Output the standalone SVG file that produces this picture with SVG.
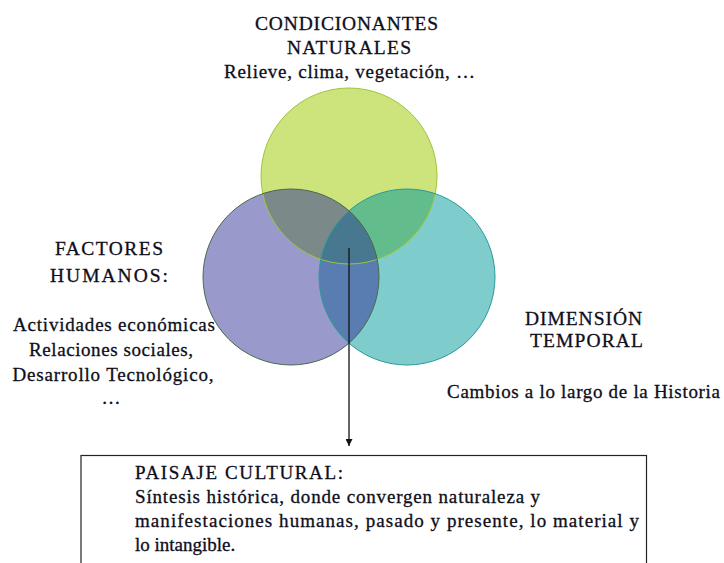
<svg xmlns="http://www.w3.org/2000/svg" width="724" height="563" viewBox="0 0 724 563">
<style>
text{font-family:"Liberation Serif","Times New Roman",serif;fill:#0e0e1a;stroke:#0e0e1a;stroke-width:0.3px}
.h{font-size:19.5px}
.t{font-size:19px}
.c{text-anchor:middle}
</style>
<defs>
<clipPath id="cT"><circle cx="349" cy="176" r="88"/></clipPath>
<clipPath id="cL"><circle cx="291" cy="277" r="88"/></clipPath>
<marker id="arr" viewBox="0 0 10 10" refX="10" refY="5" markerWidth="7" markerHeight="7" markerUnits="userSpaceOnUse" orient="auto"><path d="M0,0 L10,5 L0,10 z" fill="#111"/></marker>
</defs>
<rect width="724" height="563" fill="#fff"/>
<g id="circle-top">
<circle cx="349" cy="176" r="88" fill="#cde37c"/>
</g>
<g id="circle-left">
<circle cx="291" cy="277" r="88" fill="#9999cb"/>
</g>
<g id="circle-right">
<circle cx="407" cy="277" r="88" fill="#7ecccc"/>
</g>
<g id="overlaps">
<circle cx="291" cy="277" r="88" fill="#7b8a88" clip-path="url(#cT)"/>
<circle cx="407" cy="277" r="88" fill="#63bc8c" clip-path="url(#cT)"/>
<circle cx="407" cy="277" r="88" fill="#5a7db1" clip-path="url(#cL)"/>
<g clip-path="url(#cT)"><circle cx="407" cy="277" r="88" fill="#48788f" clip-path="url(#cL)"/></g>
</g>
<g id="outlines" fill="none" stroke-width="1">
<circle cx="349" cy="176" r="88" stroke="#9cc63a"/>
<circle cx="407" cy="277" r="88" stroke="#2b9a9a"/>
<circle cx="291" cy="277" r="88" stroke="#4a6a4c"/>
</g>
<g id="label-naturales">
<text class="h c" x="346.5" y="30" textLength="183" lengthAdjust="spacing">CONDICIONANTES</text>
<text class="h c" x="349" y="54" textLength="124" lengthAdjust="spacing">NATURALES</text>
<text class="t c" x="349.5" y="78" textLength="251" lengthAdjust="spacing">Relieve, clima, vegetación, …</text>
</g>
<g id="label-humanos">
<text class="h c" x="109" y="255" textLength="108" lengthAdjust="spacing">FACTORES</text>
<text class="h c" x="109" y="282" textLength="118" lengthAdjust="spacing">HUMANOS:</text>
<text class="t" x="13" y="331" textLength="202" lengthAdjust="spacing">Actividades económicas</text>
<text class="t c" x="111" y="356" textLength="164" lengthAdjust="spacing">Relaciones sociales,</text>
<text class="t c" x="113" y="381" textLength="201" lengthAdjust="spacing">Desarrollo Tecnológico,</text>
<text class="t c" x="111" y="404">…</text>
</g>
<g id="label-temporal">
<text class="h c" x="583.5" y="325" textLength="117" lengthAdjust="spacing">DIMENSIÓN</text>
<text class="h c" x="586.5" y="347" textLength="113" lengthAdjust="spacing">TEMPORAL</text>
<text class="t c" x="583.5" y="398" textLength="273" lengthAdjust="spacing">Cambios a lo largo de la Historia</text>
</g>
<g id="connectors">
<line x1="349" y1="248" x2="349" y2="446" stroke="#111" stroke-width="1.3" marker-end="url(#arr)"/>
</g>
<g id="paisaje-cultural">
<rect x="81" y="455.5" width="565.5" height="120" fill="#fff" stroke="#222" stroke-width="1.2"/>
<text class="t" x="135" y="479" textLength="208" lengthAdjust="spacing">PAISAJE CULTURAL:</text>
<text class="t" x="135" y="503" textLength="405" lengthAdjust="spacing">Síntesis histórica, donde convergen naturaleza y</text>
<text class="t" x="135" y="527" textLength="504" lengthAdjust="spacing">manifestaciones humanas, pasado y presente, lo material y</text>
<text class="t" x="135" y="551">lo intangible.</text>
</g>
</svg>
